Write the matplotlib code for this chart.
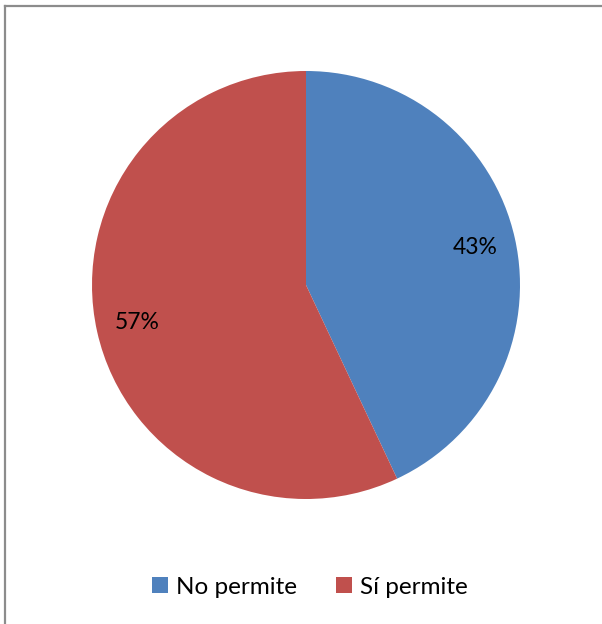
import matplotlib.pyplot as plt
from matplotlib.lines import Line2D
from matplotlib.patches import Patch

labels = ["No permite", "Sí permite"]
values = [43, 57]
colors = ["#4F81BD", "#C0504D"]

plt.rcParams["font.family"] = ["Lato", "DejaVu Sans"]

fig = plt.figure(figsize=(6.02, 6.24), dpi=100)
ax = fig.add_axes([92 / 602, 125 / 624, 428 / 602, 428 / 624])

wedges, texts, autotexts = ax.pie(
    values,
    colors=colors,
    startangle=90,
    counterclock=False,
    autopct="%d%%",
    pctdistance=0.81,
    textprops={"fontsize": 16.5, "color": "black"},
)
ax.set_xlim(-1, 1)
ax.set_ylim(-1, 1)
ax.set_aspect("equal")

# legend below the pie
handles = [Patch(facecolor=c, edgecolor="none") for c in colors]
fig.legend(
    handles, labels,
    loc="center", bbox_to_anchor=(0.515, 37 / 624),
    ncol=2, frameon=False, fontsize=17.5,
    handlelength=0.65, handleheight=0.65, handletextpad=0.35,
    columnspacing=1.6,
)

# partial frame (left and top edges only)
fig.add_artist(Line2D([4.5 / 602, 4.5 / 602], [0, 1 - 5.5 / 624],
                      transform=fig.transFigure, color="#8c8c8c", lw=1.6))
fig.add_artist(Line2D([4.5 / 602, 1], [1 - 5.5 / 624, 1 - 5.5 / 624],
                      transform=fig.transFigure, color="#8c8c8c", lw=1.6))

fig.savefig("out.png", dpi=100, facecolor="white")
